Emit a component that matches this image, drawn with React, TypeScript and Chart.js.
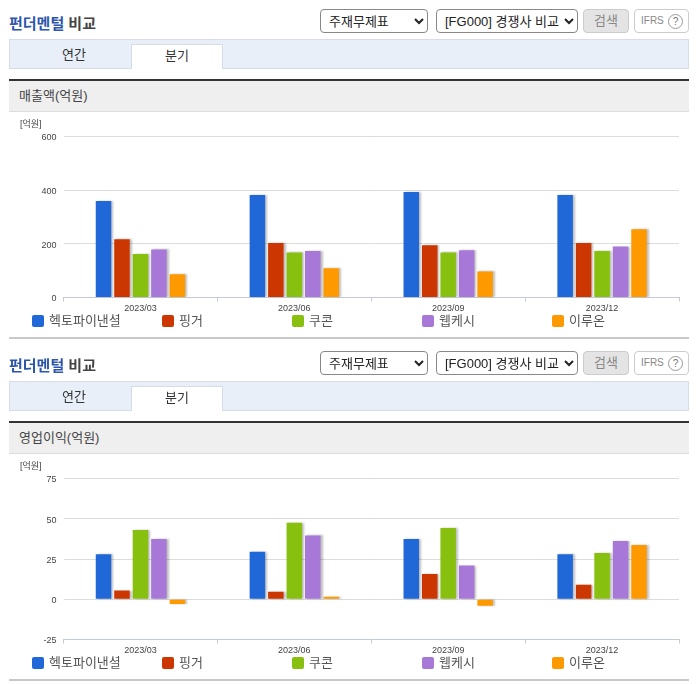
import React, { useEffect, useRef } from 'react';
import { Chart, registerables } from 'chart.js';

Chart.register(...registerables);

const FONT = '"Liberation Sans", "Noto Sans CJK KR", sans-serif';

const quarters = ['2023/03', '2023/06', '2023/09', '2023/12'];
const companies = ['헥토파이낸셜', '핑거', '쿠콘', '웹케시', '이루온'];
const colors = ['#2068d8', '#cc3600', '#88c010', '#a878d8', '#ff9900'];

// 매출액
const salesHecto = [360, 382, 393, 382];
const salesFinger = [217, 203, 195, 203];
const salesCoocon = [162, 168, 168, 173];
const salesWebcash = [179, 173, 176, 190];
const salesIruon = [87, 109, 97, 254];
const salesTicks = { min: 0, max: 600, step: 200 };

// 영업이익
const profitHecto = [28, 29.5, 37.5, 28];
const profitFinger = [5.4, 4.6, 15.7, 9];
const profitCoocon = [43, 47.5, 44.3, 28.8];
const profitWebcash = [37.5, 39.6, 20.9, 36.2];
const profitIruon = [-2.9, 1.5, -4.1, 33.7];
const profitTicks = { min: -25, max: 75, step: 25 };

const salesSeries = [salesHecto, salesFinger, salesCoocon, salesWebcash, salesIruon];
const profitSeries = [profitHecto, profitFinger, profitCoocon, profitWebcash, profitIruon];

// 막대 그림자
const barShadow = {
  id: 'barShadow',
  beforeDatasetsDraw(chart: Chart) {
    const ctx = chart.ctx;
    ctx.save();
    ctx.shadowColor = 'rgba(0,0,0,0.25)';
    ctx.shadowBlur = 2;
    ctx.shadowOffsetX = 2;
    ctx.shadowOffsetY = 0;
  },
  afterDatasetsDraw(chart: Chart) {
    chart.ctx.restore();
  },
};

type BarChartProps = {
  series: number[][];
  ticks: { min: number; max: number; step: number };
};

const BarChart: React.FC<BarChartProps> = ({ series, ticks }) => {
  const canvasRef = useRef<HTMLCanvasElement | null>(null);

  useEffect(() => {
    const ctx = canvasRef.current?.getContext('2d');
    if (!ctx) return;

    const chart = new Chart(ctx, {
      type: 'bar',
      data: {
        labels: quarters,
        datasets: series.map((values, i) => ({
          label: companies[i],
          data: values,
          backgroundColor: colors[i],
          categoryPercentage: 0.6,
          barPercentage: 0.84,
        })),
      },
      options: {
        responsive: false,
        animation: false,
        layout: { padding: { top: 24.5, right: 17, bottom: 0, left: 0 } },
        plugins: { legend: { display: false }, tooltip: { enabled: false } },
        scales: {
          x: {
            afterFit: (scale: any) => {
              scale.height = 22.5;
            },
            border: { color: '#c4cad8' },
            grid: { drawOnChartArea: false, drawTicks: true, tickLength: 4, color: '#c4cad8' },
            ticks: {
              color: '#444',
              font: { family: FONT, size: 9 },
              padding: 2,
              maxRotation: 0,
            },
          },
          y: {
            min: ticks.min,
            max: ticks.max,
            afterFit: (scale: any) => {
              scale.width = 63.5;
            },
            border: { display: false },
            grid: { drawTicks: false, color: '#dcdcdc' },
            ticks: {
              stepSize: ticks.step,
              color: '#444',
              font: { family: FONT, size: 9 },
              padding: 7,
              labelOffset: 1.5,
            },
          },
        },
      },
      plugins: [barShadow],
    });

    return () => {
      chart.destroy();
    };
  }, []);

  return (
    <canvas
      ref={canvasRef}
      width={696}
      height={208}
      style={{ position: 'absolute', left: 0, top: 112, display: 'block' }}
    />
  );
};

const selectStyle: React.CSSProperties = {
  position: 'absolute',
  top: 9,
  height: 24,
  boxSizing: 'border-box',
  fontFamily: FONT,
  fontSize: 13,
  color: '#222',
  background: '#fff',
  border: '1px solid #888',
  borderRadius: 4,
  padding: '0 2px 0 4px',
};

const box = (
  left: number,
  top: number,
  width: number,
  height: number,
  extra: React.CSSProperties = {},
): React.CSSProperties => ({
  position: 'absolute',
  left,
  top,
  width,
  height,
  boxSizing: 'border-box',
  ...extra,
});

type PanelProps = {
  top: number;
  heading: string;
  series: number[][];
  ticks: { min: number; max: number; step: number };
};

const Panel: React.FC<PanelProps> = ({ top, heading, series, ticks }) => (
  <div style={{ position: 'absolute', left: 0, top, width: 696, height: 342, fontFamily: FONT }}>
    <div style={box(9, 14, 150, 20, { fontSize: 15, fontWeight: 'bold', lineHeight: '20px', color: '#444' })}>
      <span style={{ color: '#2c56ac' }}>펀더멘털</span> 비교
    </div>

    <select style={{ ...selectStyle, left: 320, width: 108 }} defaultValue="주재무제표">
      <option>주재무제표</option>
    </select>
    <select style={{ ...selectStyle, left: 436, width: 142 }} defaultValue="[FG000] 경쟁사 비교">
      <option>[FG000] 경쟁사 비교</option>
    </select>
    <div
      style={box(583, 9, 46, 24, {
        background: '#e4e4e4',
        border: '1px solid #ccc',
        borderRadius: 4,
        color: '#888',
        fontSize: 13,
        lineHeight: '21px',
        textAlign: 'center',
      })}
    >
      검색
    </div>
    <div
      style={box(634, 9, 55, 24, {
        background: '#fff',
        border: '1px solid #ccc',
        borderRadius: 4,
        color: '#888',
        fontSize: 10,
        lineHeight: '21px',
        paddingLeft: 6,
      })}
    >
      IFRS
      <span
        style={box(33, 4, 15, 15, {
          border: '1px solid #999',
          borderRadius: '50%',
          fontSize: 10,
          lineHeight: '13px',
          textAlign: 'center',
          color: '#777',
        })}
      >
        ?
      </span>
    </div>

    <div style={box(9, 39, 680, 30, { background: '#e8eff8', border: '1px solid #d6dde8' })} />
    <div style={box(9, 39, 130, 30, { fontSize: 13, lineHeight: '32px', textAlign: 'center', color: '#333' })}>연간</div>
    <div
      style={box(131, 44, 92, 25, {
        background: '#fff',
        border: '1px solid #d6dde8',
        borderBottom: 'none',
        fontSize: 13,
        lineHeight: '22px',
        textAlign: 'center',
        color: '#333',
      })}
    >
      분기
    </div>

    <div style={box(9, 79, 680, 2, { background: '#333' })} />
    <div
      style={box(9, 81, 680, 31, {
        background: '#efefef',
        borderBottom: '1px solid #ddd',
        fontSize: 13,
        lineHeight: '30px',
        paddingLeft: 10,
        color: '#444',
      })}
    >
      {heading}
    </div>

    <BarChart series={series} ticks={ticks} />

    <div style={box(20, 118, 30, 12, { fontSize: 9, lineHeight: '12px', color: '#444' })}>[억원]</div>

    {companies.map((name, i) => (
      <React.Fragment key={name}>
        <div style={box(32 + i * 130, 315, 12, 12, { background: colors[i], borderRadius: 2 })} />
        <div style={box(49 + i * 130, 312, 90, 18, { fontSize: 13, lineHeight: '18px', color: '#555' })}>{name}</div>
      </React.Fragment>
    ))}

    <div style={box(9, 337, 680, 2, { background: '#c8c8c8' })} />
  </div>
);

export default function App() {
  return (
    <div style={{ position: 'absolute', left: 0, top: 0, width: 696, height: 684, background: '#fff', overflow: 'hidden' }}>
      <Panel top={0} heading="매출액(억원)" series={salesSeries} ticks={salesTicks} />
      <Panel top={342} heading="영업이익(억원)" series={profitSeries} ticks={profitTicks} />
    </div>
  );
}
